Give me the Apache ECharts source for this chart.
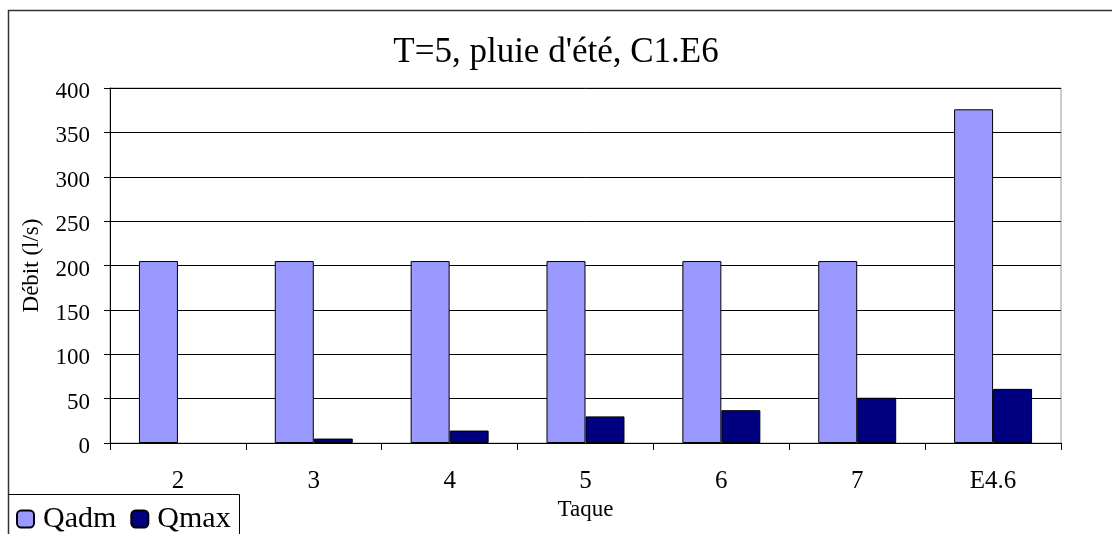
<!DOCTYPE html>
<html>
<head>
<meta charset="utf-8">
<script src="https://cdn.jsdelivr.net/npm/echarts@6/dist/echarts.min.js"></script>
<style>
html,body{margin:0;padding:0;background:#fff;}
#c{width:1112px;height:534px;}
</style>
</head>
<body>
<div id="c"></div>
<script>
var categories = ['2', '3', '4', '5', '6', '7', 'E4.6'];
var qadm = [205, 205, 205, 205, 205, 205, 376];
var qmax = [0, 5, 14, 30, 37, 51, 61];
var yTicks = [0, 50, 100, 150, 200, 250, 300, 350, 400];

var font = '"Liberation Serif", "DejaVu Serif", serif';
function barData(arr) {
  return arr.map(function (v) { return v === 0 ? {value: v, itemStyle: {borderWidth: 0}} : v; });
}
var chart = echarts.init(document.getElementById('c'));
chart.setOption({
  animation: false,
  backgroundColor: '#fff',
  title: {
    text: "T=5, pluie d'été, C1.E6",
    left: 'center',
    top: 30,
    textStyle: {fontFamily: font, fontSize: 35, fontWeight: 'normal', color: '#000'}
  },
  legend: {
    left: 16,
    top: 504,
    padding: 0,
    itemWidth: 17,
    itemHeight: 17,
    itemGap: 14,
    textStyle: {fontFamily: font, fontSize: 30, color: '#000', padding: [0, 0, 0, 4]},
    data: ['Qadm', 'Qmax']
  },
  grid: {left: 110, right: 51, top: 88, bottom: 91, show: true, borderColor: '#999', borderWidth: 1, backgroundColor: 'transparent'},
  xAxis: {
    type: 'category',
    data: categories,
    name: 'Taque',
    nameLocation: 'middle',
    nameGap: 50,
    nameTextStyle: {fontFamily: font, fontSize: 23, color: '#000'},
    axisLine: {lineStyle: {color: '#000', width: 1}},
    axisTick: {show: true, length: 7, lineStyle: {color: '#000'}},
    axisLabel: {fontFamily: font, fontSize: 25, color: '#000', margin: 26},
    splitLine: {show: false}
  },
  yAxis: {
    type: 'value',
    min: 0,
    max: 400,
    interval: 50,
    name: 'Débit (l/s)',
    nameLocation: 'middle',
    nameGap: 67,
    nameTextStyle: {fontFamily: font, fontSize: 23, color: '#000'},
    axisLine: {show: true, lineStyle: {color: '#000', width: 1}},
    axisTick: {show: true, length: 6, lineStyle: {color: '#000'}},
    axisLabel: {fontFamily: font, fontSize: 23, color: '#000', margin: 20,
      verticalAlign: 'top', lineHeight: 8,
      formatter: function (v) { return yTicks.indexOf(v) >= 0 ? String(v) : ''; }},
    splitLine: {show: true, lineStyle: {color: '#000', width: 1}}
  },
  series: [
    {name: 'Qadm', type: 'bar', data: barData(qadm), barGap: '0%', barCategoryGap: '42.6%',
      itemStyle: {color: '#9999FF', borderColor: '#000', borderWidth: 1}},
    {name: 'Qmax', type: 'bar', data: barData(qmax),
      itemStyle: {color: '#000080', borderColor: '#000', borderWidth: 1}}
  ],
  graphic: [
    {type: 'polyline', shape: {points: [[8.5, 534], [8.5, 10.5], [1112, 10.5]]},
      style: {stroke: '#333', lineWidth: 1.5, fill: null}, silent: true},
    {type: 'polyline', shape: {points: [[8.5, 494.5], [239.5, 494.5], [239.5, 534]]},
      style: {stroke: '#000', lineWidth: 1, fill: null}, silent: true}
  ]
});
</script>
</body>
</html>
